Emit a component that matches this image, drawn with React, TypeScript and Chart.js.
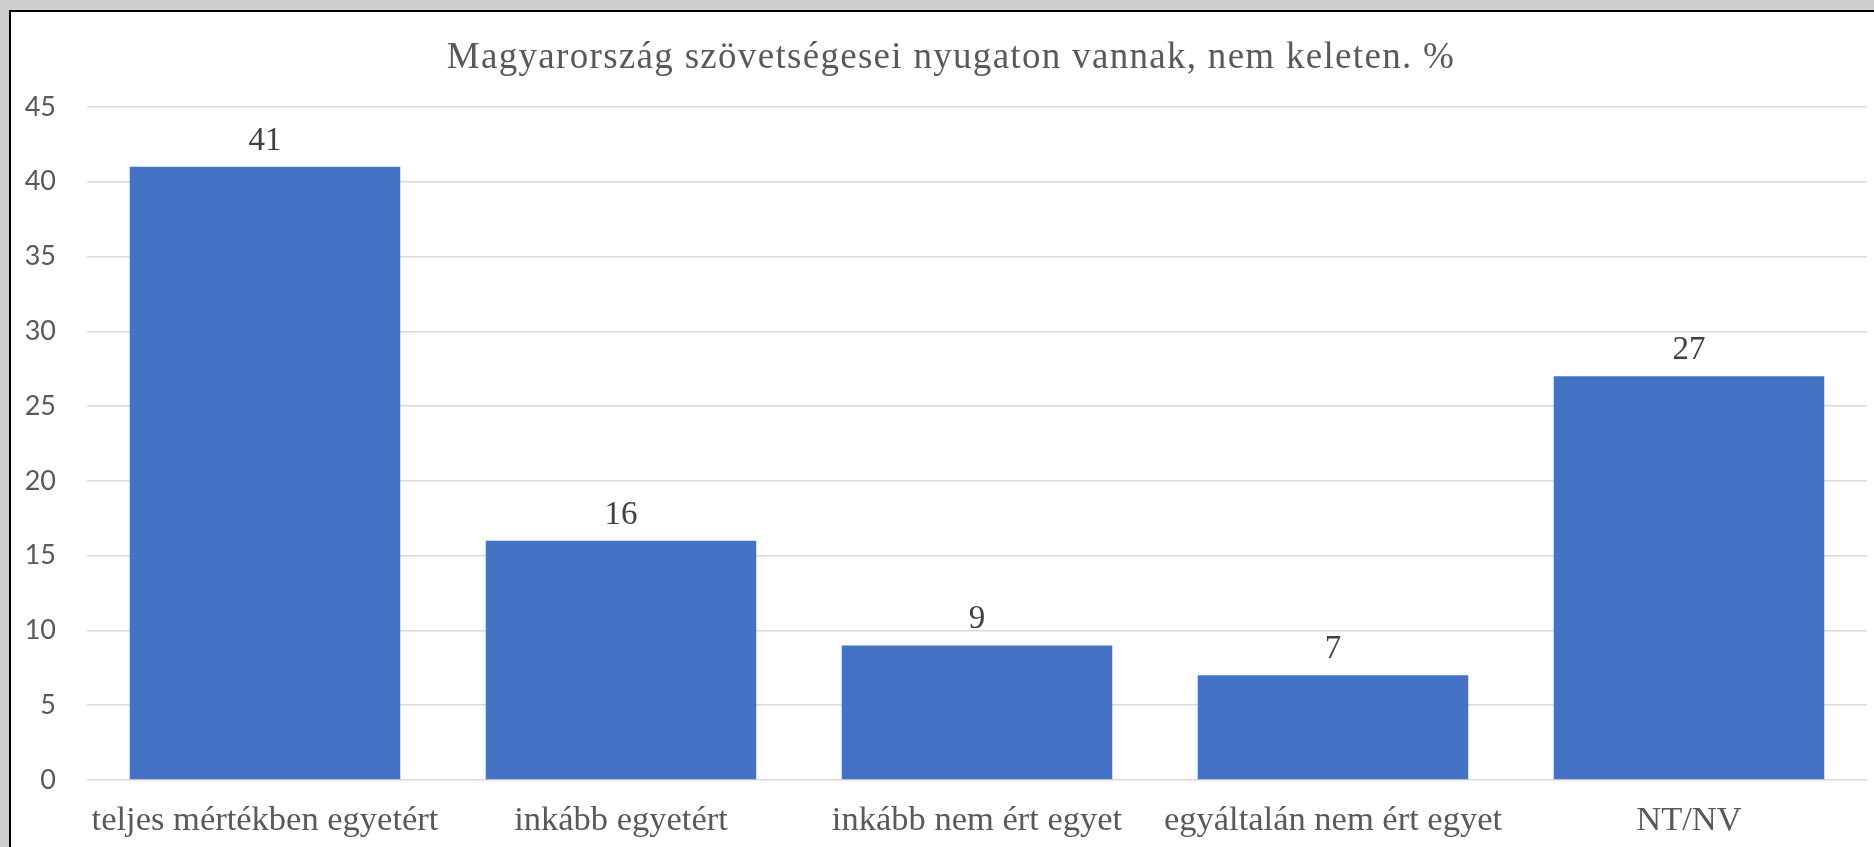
import React, { useEffect, useRef } from "react";
import { Chart, registerables } from "chart.js";

Chart.register(...registerables);

const titleText = "Magyarország szövetségesei nyugaton vannak, nem keleten. %";
const categories = [
  "teljes mértékben egyetért",
  "inkább egyetért",
  "inkább nem ért egyet",
  "egyáltalán nem ért egyet",
  "NT/NV",
];
const values = [41, 16, 9, 7, 27];
const yMin = 0;
const yMax = 45;
const yStep = 5;

const valueLabels = {
  id: "valueLabels",
  afterDatasetsDraw(chart: any) {
    const ctx = chart.ctx;
    const meta = chart.getDatasetMeta(0);
    const data = chart.data.datasets[0].data;
    ctx.save();
    ctx.font = "33px 'Liberation Serif'";
    ctx.fillStyle = "#404040";
    ctx.textAlign = "center";
    ctx.textBaseline = "alphabetic";
    meta.data.forEach((bar: any, i: number) => {
      ctx.fillText(String(data[i]), bar.x, bar.y - 17);
    });
    ctx.restore();
  },
};

const titleDraw = {
  id: "titleDraw",
  afterDraw(chart: any) {
    const ctx = chart.ctx;
    ctx.save();
    ctx.font = "37px 'Liberation Serif'";
    ctx.fillStyle = "#595959";
    ctx.textAlign = "center";
    ctx.textBaseline = "alphabetic";
    try {
      (ctx as any).letterSpacing = "1.3px";
    } catch (e) {}
    ctx.fillText(titleText, chart.width / 2, 56);
    ctx.restore();
  },
};

export default function App() {
  const ref = useRef<HTMLCanvasElement | null>(null);

  useEffect(() => {
    if (!ref.current) return;
    const chart = new Chart(ref.current, {
      type: "bar",
      data: {
        labels: categories,
        datasets: [
          {
            data: values,
            backgroundColor: "#4472c4",
            borderWidth: 0,
            categoryPercentage: 0.76,
            barPercentage: 1,
          },
        ],
      },
      options: {
        animation: false,
        responsive: false,
        maintainAspectRatio: false,
        layout: { padding: { left: 0, right: 24, top: 95, bottom: 0 } },
        plugins: {
          legend: { display: false },
          tooltip: { enabled: false },
          title: { display: false },
        },
        scales: {
          x: {
            grid: { display: false, drawTicks: false },
            border: { display: false },
            ticks: {
              color: "#595959",
              font: { family: "'Liberation Serif'", size: 34.5 },
              padding: 20,
              maxRotation: 0,
              autoSkip: false,
            },
            afterFit(scale: any) {
              scale.height = 67;
            },
          },
          y: {
            min: yMin,
            max: yMax,
            grid: { color: "#d9d9d9", lineWidth: 1.5, drawTicks: false },
            border: { display: false },
            ticks: {
              stepSize: yStep,
              color: "#595959",
              font: { family: "Lato", size: 27 },
              padding: 31,
            },
            afterFit(scale: any) {
              scale.width = 76;
            },
          },
        },
      },
      plugins: [valueLabels, titleDraw],
    });
    return () => chart.destroy();
  }, []);

  return (
    <div
      style={{
        position: "fixed",
        left: 0,
        top: 0,
        width: 1874,
        height: 847,
        overflow: "hidden",
        background: "#d0cfd0",
      }}
    >
      <div
        style={{
          position: "absolute",
          left: 9,
          top: 10,
          width: 1900,
          height: 900,
          background: "#ffffff",
          borderTop: "2px solid #000",
          borderLeft: "2px solid #000",
        }}
      >
        <canvas
          ref={ref}
          width={1880}
          height={835}
          style={{ display: "block", width: 1880, height: 835 }}
        />
      </div>
    </div>
  );
}
